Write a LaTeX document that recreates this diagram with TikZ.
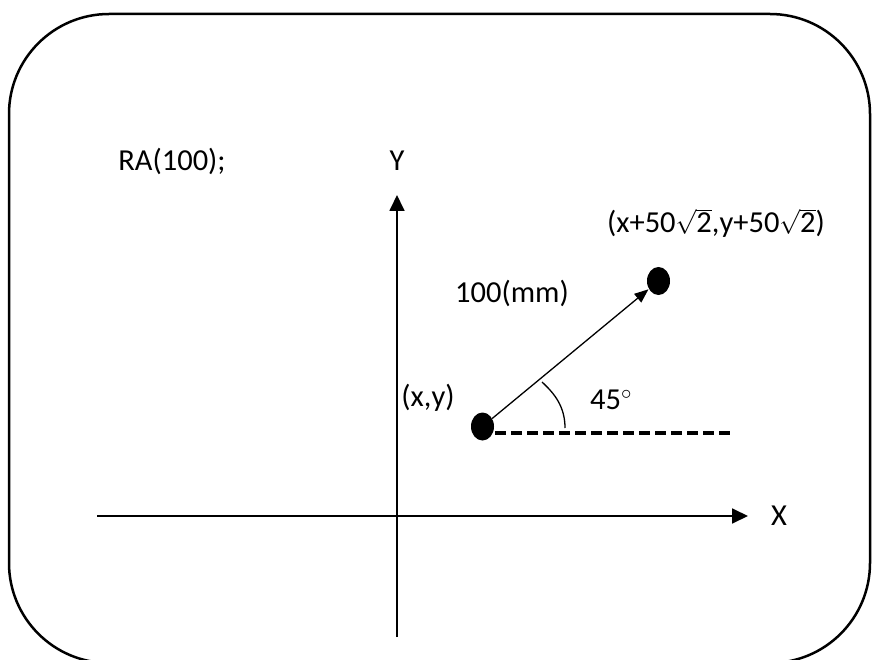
\documentclass[tikz,border=0pt]{standalone}
\usepackage{amsmath}
\usepackage{fontspec}
\setmainfont{Carlito}
\usetikzlibrary{arrows.meta,shapes.geometric}
\newcommand{\mysq}[1]{$\sqrt{\hbox{#1}}$}
\begin{document}
\begin{tikzpicture}[x=1pt,y=-1pt,
  lbl/.style={font=\fontsize{30.5}{36}\selectfont, inner sep=0pt, anchor=base},
  dot/.style={ellipse, fill=black, minimum width=23pt, minimum height=28pt, inner sep=0pt},
  axis/.style={line width=1.8pt, -{Triangle[length=16pt,width=15pt]}},
  vec/.style={line width=1.3pt, -{Triangle[length=14pt,width=11pt]}, shorten >=0.5pt},
  frame/.style={line width=2.5pt, rounded corners=100pt}]
\useasboundingbox (0,0) rectangle (875,660);
\draw[frame] (9,14) rectangle (870,663);
% axes
\coordinate (ybot) at (397,637);
\coordinate (ytop) at (397,195);
\coordinate (xl) at (97,516);
\coordinate (xr) at (748,516);
\draw[axis] (ybot) -- (ytop);
\draw[axis] (xl) -- (xr);
\node[lbl] (ylab) at (397,171) {Y};
\node[lbl] (xlab) at (779,525) {X};
\node[lbl] (ra) at (172,171) {RA(100);};
% points
\node[dot] (p0) at (482.5,426.5) {};
\node[dot] (p1) at (658.5,281) {};
\coordinate (dstart) at (495,433);
\coordinate (dend) at (732,433);
\draw[line width=4pt, dash pattern=on 11pt off 5pt] (dstart) -- (dend);
\draw[vec] (p0) -- (p1);
\coordinate (a0) at (542,382);
\coordinate (a1) at (565,428);
\draw[line width=1.3pt] (a0) .. controls (555,394) and (565,407) .. (a1);
\node[lbl] (pt0) at (428,406) {(x,y)};
\node[lbl] (len) at (512,302) {100(mm)};
\node[lbl, anchor=base west] (ang) at (590,409) {45$^\circ$};
\node[lbl] (pt1) at (716,233) {(x+50\mysq{2},y+50\mysq{2})};
\end{tikzpicture}
\end{document}
